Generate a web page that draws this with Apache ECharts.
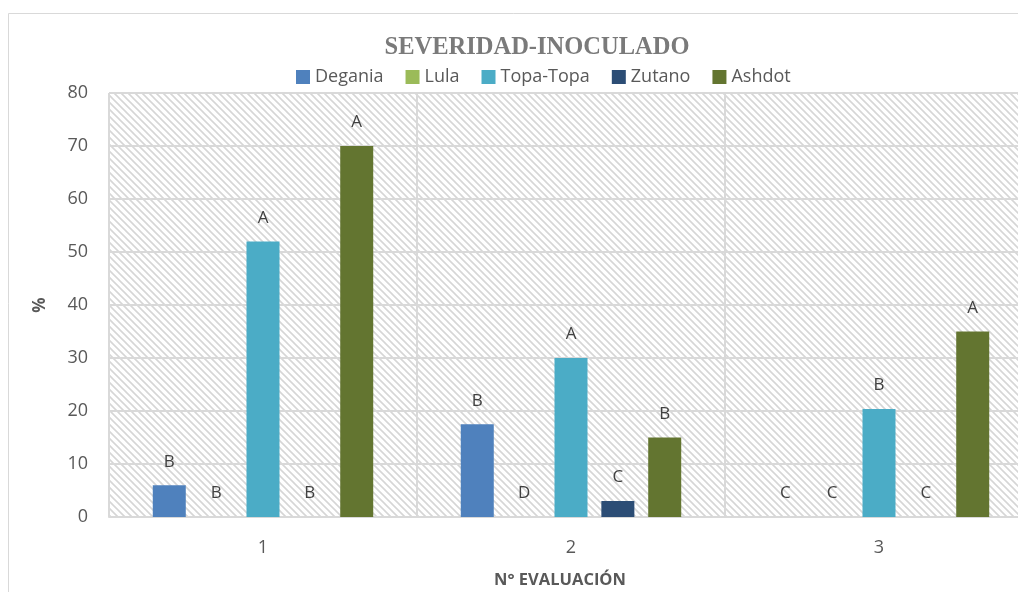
<!DOCTYPE html>
<html>
<head>
<meta charset="utf-8">
<script src="https://cdn.jsdelivr.net/npm/echarts@6/dist/echarts.min.js"></script>
<style>
  html, body { margin: 0; padding: 0; background: #fff; }
  #chart { width: 1018px; height: 592px; }
</style>
</head>
<body>
<div id="chart"></div>
<script>
// datos
var evaluaciones = ['1', '2', '3'];
var degania  = [6, 17.5, 0];
var lula     = [0, 0, 0];
var topaTopa = [52, 30, 20.4];
var zutano   = [0, 3, 0];
var ashdot   = [70, 15, 35];
// letras de significancia
var letrasDegania  = ['B', 'B', 'C'];
var letrasLula     = ['B', 'D', 'C'];
var letrasTopa     = ['A', 'A', 'B'];
var letrasZutano   = ['B', 'C', 'C'];
var letrasAshdot   = ['A', 'B', 'A'];

// fondo rayado del area de trazado
function hatch() {
  var c = document.createElement('canvas');
  c.width = 7; c.height = 7;
  var ctx = c.getContext('2d');
  ctx.fillStyle = '#fff';
  ctx.fillRect(0, 0, 7, 7);
  ctx.strokeStyle = '#d6d6d6';
  ctx.lineWidth = 1.6;
  ctx.beginPath();
  ctx.moveTo(-1, -1); ctx.lineTo(8, 8);
  ctx.moveTo(-5, 2); ctx.lineTo(5, 12);
  ctx.moveTo(2, -5); ctx.lineTo(12, 5);
  ctx.stroke();
  return { image: c, repeat: 'repeat' };
}

var fuente = '"Open Sans", "Noto Sans", sans-serif';

function serie(nombre, datos, letras, color) {
  return {
    name: nombre,
    type: 'bar',
    data: datos,
    barWidth: 33,
    barGap: '42%',
    itemStyle: { color: color },
    label: {
      show: true,
      position: 'top',
      distance: 15,
      color: '#404040',
      fontSize: 17,
      fontFamily: fuente,
      formatter: function (p) { return letras[p.dataIndex]; }
    }
  };
}

var myChart = echarts.init(document.getElementById('chart'));
myChart.setOption({
  animation: false,
  backgroundColor: '#fff',
  graphic: [{
    type: 'rect',
    shape: { x: 8.5, y: 13.5, width: 1200, height: 800 },
    style: { fill: 'none', stroke: '#d9d9d9', lineWidth: 1 },
    z: -10
  }],
  title: {
    text: 'SEVERIDAD-INOCULADO',
    left: 532,
    textAlign: 'center',
    top: 30,
    textStyle: {
      fontFamily: '"Liberation Serif", serif',
      fontWeight: 'bold',
      fontSize: 24.5,
      color: '#7a7a7a'
    }
  },
  legend: {
    data: ['Degania', 'Lula', 'Topa-Topa', 'Zutano', 'Ashdot'],
    left: 291,
    top: 63,
    itemWidth: 14,
    itemHeight: 14,
    itemGap: 22,
    icon: 'rect',
    textStyle: { fontSize: 18, color: '#595959', fontFamily: fuente }
  },
  grid: { left: 109, width: 924, top: 93, height: 424, outerBoundsMode: 'none' },
  xAxis: {
    type: 'category',
    data: evaluaciones,
    name: 'N° EVALUACIÓN',
    nameLocation: 'middle',
    nameGap: 55,
    nameTextStyle: { fontSize: 16.5, fontWeight: 'bold', color: '#595959', fontFamily: fuente, padding: [0, 22, 0, 0] },
    axisLine: { lineStyle: { color: '#d9d9d9', width: 2 } },
    axisTick: { show: false },
    axisLabel: { fontSize: 18, color: '#595959', fontFamily: fuente, margin: 22 },
    splitLine: { show: true, lineStyle: { color: '#d9d9d9', width: 2 } }
  },
  yAxis: {
    type: 'value',
    min: 0,
    max: 80,
    interval: 10,
    name: '%',
    nameLocation: 'middle',
    nameGap: 60,
    nameTextStyle: { fontSize: 17, fontWeight: 'bold', color: '#595959', fontFamily: fuente },
    axisLine: { show: false },
    axisTick: { show: false },
    axisLabel: { fontSize: 18, color: '#595959', fontFamily: fuente, margin: 21 },
    splitLine: { lineStyle: { color: '#d9d9d9', width: 2 } },
    splitArea: { show: true, areaStyle: { color: [hatch()] } }
  },
  series: [
    serie('Degania', degania, letrasDegania, '#4f81bd'),
    serie('Lula', lula, letrasLula, '#9bbb59'),
    serie('Topa-Topa', topaTopa, letrasTopa, '#4bacc6'),
    serie('Zutano', zutano, letrasZutano, '#2c4d75'),
    serie('Ashdot', ashdot, letrasAshdot, '#637530')
  ]
});
</script>
</body>
</html>
